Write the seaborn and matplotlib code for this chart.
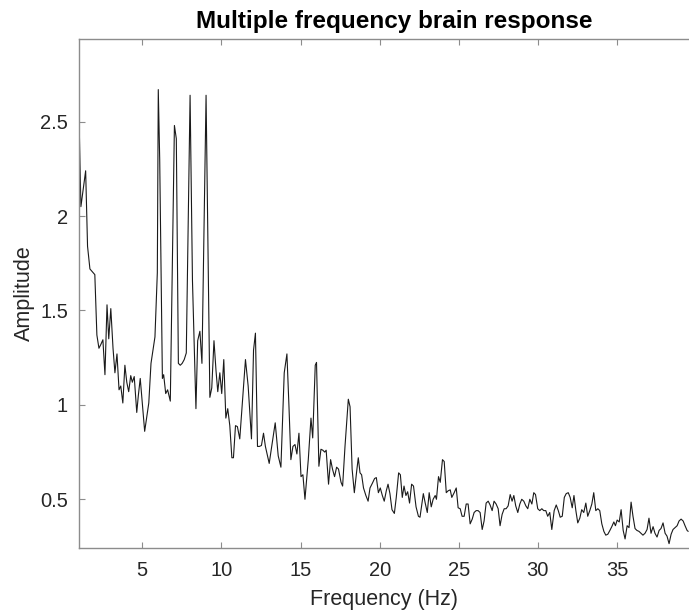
import numpy as np
import pandas as pd
import matplotlib
matplotlib.use("Agg")
import matplotlib.pyplot as plt
import seaborn as sns

# Frequency (Hz) of traced spectrum vertices
freq = [
    1.00, 1.12, 1.42, 1.54, 1.69, 2.00, 2.13, 2.26, 2.38, 2.51, 2.64, 2.77, 2.88, 3.01,
    3.15, 3.27, 3.40, 3.53, 3.64, 3.77, 3.90, 4.02, 4.14, 4.27, 4.37, 4.49, 4.65, 4.75,
    4.87, 5.00, 5.15, 5.41, 5.55, 5.80, 5.95, 6.01, 6.10, 6.27, 6.35, 6.48, 6.60, 6.77,
    7.03, 7.15, 7.28, 7.40, 7.52, 7.65, 7.78, 8.02, 8.17, 8.39, 8.50, 8.64, 8.77, 9.03,
    9.27, 9.39, 9.53, 9.66, 9.77, 9.90, 10.02, 10.15, 10.28, 10.40, 10.53, 10.66, 10.76,
    10.89, 11.01, 11.16, 11.52, 11.69, 11.90, 12.03, 12.15, 12.28, 12.40, 12.53, 12.66,
    12.78, 13.02, 13.40, 13.59, 13.76, 13.97, 14.14, 14.27, 14.39, 14.52, 14.65, 14.77,
    14.90, 15.03, 15.15, 15.28, 15.49, 15.66, 15.77, 15.93, 16.01, 16.16, 16.29, 16.41,
    16.53, 16.62, 16.77, 16.90, 17.02, 17.15, 17.28, 17.40, 17.56, 17.66, 17.81, 18.02,
    18.13, 18.26, 18.40, 18.55, 18.65, 18.76, 18.86, 18.98, 19.13, 19.27, 19.39, 19.54,
    19.68, 19.79, 19.92, 20.04, 20.17, 20.29, 20.42, 20.53, 20.65, 20.78, 20.93, 21.05,
    21.20, 21.31, 21.43, 21.54, 21.66, 21.77, 21.89, 22.02, 22.14, 22.30, 22.45, 22.55,
    22.68, 22.76, 22.88, 23.01, 23.13, 23.26, 23.38, 23.51, 23.59, 23.72, 23.83, 23.97,
    24.08, 24.21, 24.33, 24.46, 24.56, 24.71, 24.84, 24.96, 25.09, 25.21, 25.34, 25.47,
    25.59, 25.72, 25.85, 25.97, 26.10, 26.22, 26.35, 26.48, 26.60, 26.73, 26.86, 26.98,
    27.11, 27.23, 27.36, 27.49, 27.61, 27.74, 27.87, 27.99, 28.12, 28.25, 28.37, 28.48,
    28.60, 28.73, 28.86, 28.98, 29.11, 29.24, 29.36, 29.49, 29.62, 29.74, 29.85, 29.99,
    30.12, 30.25, 30.37, 30.50, 30.62, 30.75, 30.88, 31.03, 31.16, 31.29, 31.41, 31.54,
    31.67, 31.79, 31.92, 32.04, 32.17, 32.28, 32.40, 32.52, 32.65, 32.77, 32.90, 33.03,
    33.15, 33.28, 33.41, 33.53, 33.66, 33.79, 33.91, 34.04, 34.17, 34.29, 34.42, 34.55,
    34.67, 34.80, 34.90, 35.01, 35.14, 35.26, 35.39, 35.51, 35.64, 35.76, 35.89, 36.01,
    36.14, 36.26, 36.39, 36.52, 36.64, 36.77, 36.90, 37.02, 37.15, 37.28, 37.40, 37.53,
    37.66, 37.78, 37.91, 38.04, 38.16, 38.29, 38.42, 38.54, 38.67, 38.80, 38.92, 39.05,
    39.18, 39.30, 39.43, 39.50,
]

# Amplitude at each vertex
amplitude = [
    2.53, 2.05, 2.24, 1.84, 1.72, 1.69, 1.37, 1.30, 1.32, 1.345, 1.16, 1.53, 1.35, 1.51,
    1.30, 1.17, 1.27, 1.08, 1.10, 1.01, 1.21, 1.12, 1.07, 1.155, 1.12, 1.15, 0.96, 1.05,
    1.14, 1.01, 0.86, 1.01, 1.22, 1.36, 1.70, 2.67, 2.30, 1.14, 1.16, 1.06, 1.08, 1.02,
    2.48, 2.41, 1.22, 1.21, 1.22, 1.24, 1.275, 2.64, 1.66, 0.98, 1.34, 1.39, 1.22, 2.64,
    1.04, 1.09, 1.34, 1.18, 1.07, 1.17, 1.06, 1.24, 0.93, 0.98, 0.89, 0.72, 0.72,
    0.89, 0.885, 0.82, 1.24, 1.10, 0.82, 1.29, 1.38, 0.78, 0.78, 0.785, 0.85,
    0.78, 0.69, 0.905, 0.73, 0.67, 1.17, 1.27, 0.99, 0.71, 0.78, 0.79, 0.74,
    0.85, 0.62, 0.63, 0.50, 0.71, 0.93, 0.825, 1.21, 1.225, 0.675, 0.765, 0.76,
    0.75, 0.76, 0.58, 0.71, 0.66, 0.62, 0.67, 0.66, 0.59, 0.57, 0.78, 1.03,
    0.99, 0.66, 0.535, 0.65, 0.72, 0.64, 0.63, 0.56, 0.52, 0.49, 0.56, 0.585,
    0.61, 0.615, 0.535, 0.56, 0.52, 0.49, 0.545, 0.58, 0.53, 0.445, 0.425, 0.51,
    0.64, 0.63, 0.51, 0.57, 0.52, 0.54, 0.48, 0.58, 0.57, 0.46, 0.41, 0.405,
    0.48, 0.53, 0.48, 0.43, 0.535, 0.46, 0.50, 0.52, 0.50, 0.62, 0.59, 0.71,
    0.70, 0.535, 0.545, 0.55, 0.51, 0.535, 0.56, 0.455, 0.45, 0.41, 0.41, 0.475,
    0.475, 0.37, 0.395, 0.43, 0.44, 0.44, 0.43, 0.34, 0.385, 0.48, 0.49, 0.47,
    0.44, 0.49, 0.475, 0.45, 0.36, 0.42, 0.45, 0.45, 0.465, 0.525, 0.49, 0.52,
    0.465, 0.43, 0.475, 0.50, 0.49, 0.465, 0.45, 0.50, 0.475, 0.535, 0.525, 0.45,
    0.44, 0.45, 0.44, 0.44, 0.41, 0.43, 0.34, 0.44, 0.47, 0.44, 0.405, 0.41,
    0.51, 0.53, 0.535, 0.51, 0.455, 0.52, 0.44, 0.375, 0.40, 0.445, 0.43, 0.48,
    0.41, 0.44, 0.475, 0.535, 0.44, 0.45, 0.44, 0.37, 0.33, 0.31, 0.315, 0.335,
    0.355, 0.38, 0.36, 0.39, 0.38, 0.445, 0.335, 0.29, 0.36, 0.35, 0.485, 0.41,
    0.345, 0.335, 0.33, 0.32, 0.31, 0.32, 0.34, 0.40, 0.32, 0.355, 0.32, 0.30,
    0.335, 0.345, 0.375, 0.32, 0.305, 0.265, 0.315, 0.34, 0.35, 0.36, 0.385, 0.395,
    0.385, 0.36, 0.335, 0.33,
]

x_ticks = [5, 10, 15, 20, 25, 30, 35]
y_ticks = [0.5, 1, 1.5, 2, 2.5]
y_tick_labels = ["0.5", "1", "1.5", "2", "2.5"]

sns.set_theme(style="white")
plt.rcParams["font.family"] = ["Liberation Sans", "DejaVu Sans"]

df = pd.DataFrame({"Frequency": freq, "Amplitude": amplitude})

fig = plt.figure(figsize=(6.89, 6.15), dpi=100)
ax = fig.add_axes([79 / 689, 67 / 615, 610 / 689, 509 / 615])

sns.lineplot(data=df, x="Frequency", y="Amplitude", ax=ax, color="#1a1a1a",
             linewidth=0.8, errorbar=None, sort=False)

ax.set_xlim(1, 39.55)
ax.set_ylim(0.242, 2.938)
ax.set_xticks(x_ticks)
ax.set_xticklabels([str(t) for t in x_ticks])
ax.set_yticks(y_ticks)
ax.set_yticklabels(y_tick_labels)

spine_col = "#8c8c8c"
for side in ["left", "bottom", "top"]:
    ax.spines[side].set_visible(True)
    ax.spines[side].set_color(spine_col)
    ax.spines[side].set_linewidth(1.0)
ax.spines["right"].set_visible(False)

ax.tick_params(axis="both", which="major", direction="in", length=4, width=0.8,
               color=spine_col, labelsize=14.5, labelcolor="#262626",
               top=True, bottom=True, left=True, right=False, pad=6)
ax.tick_params(axis="x", pad=9)
ax.tick_params(axis="y", pad=8)

ax.set_xlabel("Frequency (Hz)", fontsize=15.5, color="#262626", labelpad=7)
ax.set_ylabel("Amplitude", fontsize=15.5, color="#262626", labelpad=4)
ax.set_title("Multiple frequency brain response", fontsize=17.5, fontweight="bold",
             color="black", pad=8, x=0.516)

fig.savefig("out.png", dpi=100)
